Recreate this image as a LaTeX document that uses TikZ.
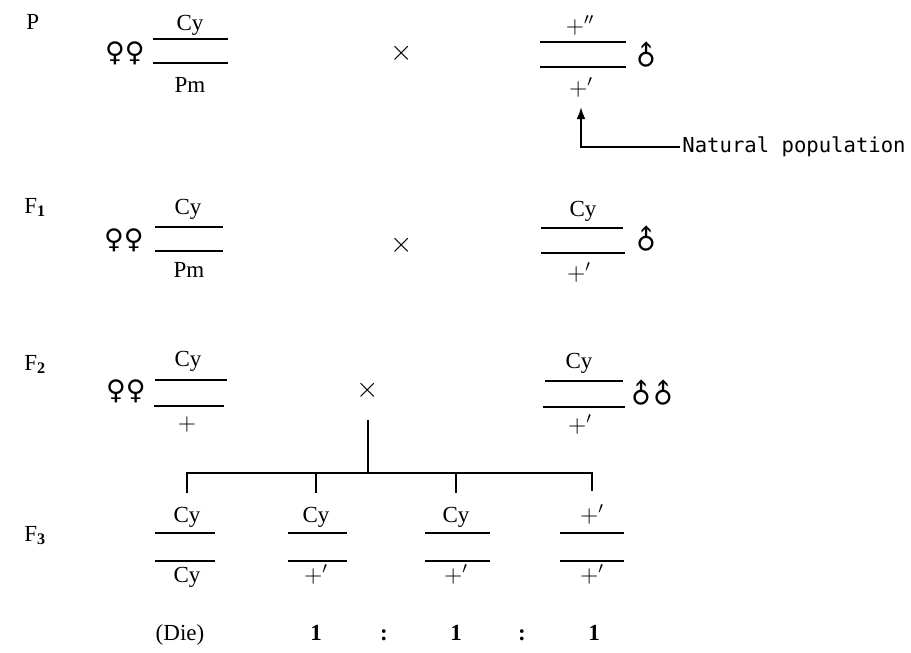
\documentclass[tikz,border=0pt]{standalone}
\usepackage{fontspec}
\usepackage{graphicx}
\setmainfont{Liberation Serif}
\newfontfamily\symfont{DejaVu Sans}
\newfontfamily\popfont{DejaVu Sans Mono}
\usetikzlibrary{arrows.meta, positioning}
\newcommand{\femalesym}{{\symfont ♀}}
\newcommand{\malesym}{\rotatebox[origin=c]{45}{\symfont ♂}}

\begin{document}
\begin{tikzpicture}[x=0.5pt, y=-0.5pt,
    chrom/.style={line width=0.75pt},
    allele/.style={font=\fontsize{11.5}{12}\selectfont, inner sep=1pt, anchor=base},
    gen/.style={font=\fontsize{11.5}{12}\selectfont, inner sep=0pt, anchor=base west},
    sex/.style={font=\fontsize{13.5}{14}\selectfont, inner sep=0pt},
    cross/.style={font=\fontsize{14}{14}\selectfont, inner sep=1pt},
    arr/.style={-{Latex[length=6pt, width=4.5pt]}, line width=0.8pt}
]
\useasboundingbox (0,0) rectangle (911,653);

% generation labels
\node[gen] (genP) at (26,30) {P};
\node[gen] (genF1) at (24,213) {F\textsubscript{\textbf{1}}};
\node[gen] (genF2) at (24,370) {F\textsubscript{\textbf{2}}};
\node[gen] (genF3) at (24,541) {F\textsubscript{\textbf{3}}};

% P: female x wild male
\node[sex] (fP) at (125,53) {\femalesym\femalesym};
\draw[chrom] (153,39) -- (228,39);
\draw[chrom] (153,63) -- (228,63);
\node[allele] (fPt) at (190,31) {Cy};
\node[allele] (fPb) at (190,92) {Pm};
\node[cross] (xP) at (402,53) {$\times$};
\draw[chrom] (540,42) -- (626,42);
\draw[chrom] (540,67) -- (626,67);
\node[allele] (mPt) at (580,33) {$+''$};
\node[allele] (mPb) at (581,95) {$+'$};
\node[sex] (mP) at (646,56) {\malesym};
\node[font=\popfont\fontsize{10.3}{12}\selectfont, anchor=west, inner sep=1pt] (natpop) at (680,147) {Natural population};
\draw[arr, shorten >=4pt] (natpop.west) -| (mPb.south);

% F1
\node[sex] (fF1) at (124,240) {\femalesym\femalesym};
\draw[chrom] (155,227) -- (223,227);
\draw[chrom] (155,251) -- (223,251);
\node[allele] (fF1t) at (188,214) {Cy};
\node[allele] (fF1b) at (189,277) {Pm};
\node[cross] (xF1) at (402,245) {$\times$};
\draw[chrom] (541,228) -- (623,228);
\draw[chrom] (541,253) -- (625,253);
\node[allele] (mF1t) at (583,216) {Cy};
\node[allele] (mF1b) at (579,280) {$+'$};
\node[sex] (mF1) at (646,240) {\malesym};

% F2
\node[sex] (fF2) at (126,391) {\femalesym\femalesym};
\draw[chrom] (155,380) -- (227,380);
\draw[chrom] (154,406) -- (224,406);
\node[allele] (fF2t) at (188,366) {Cy};
\node[allele] (fF2b) at (187,430) {$+$};
\node[cross] (xF2) at (368,390) {$\times$};
\draw[chrom] (545,381) -- (623,381);
\draw[chrom] (543,407) -- (625,407);
\node[allele] (mF2t) at (579,368) {Cy};
\node[allele] (mF2b) at (580,432) {$+'$};
\node[sex] (mF2) at (652,394) {\malesym\hspace{-4.5pt}\malesym};

% F3 offspring
\foreach \cx/\xl/\xr/\ta/\tb [count=\i] in {187/155/215/Cy/Cy, 316/288/347/Cy/$+'$, 456/425/490/Cy/$+'$, 592/560/624/$+'$/$+'$} {
  \draw[chrom] (\xl,533) -- (\xr,533);
  \draw[chrom] (\xl,561) -- (\xr,561);
  \node[allele] (g\i t) at (\cx,522) {\ta};
  \node[allele] (g\i b) at (\cx,582) {\tb};
}
\coordinate (bar) at (368,473);
\draw[chrom] ([yshift=-9pt]xF2.south) -- (bar);
\draw[chrom] ([yshift=5.5pt]g1t.north) |- (bar) -| ([yshift=5.5pt]g4t.north);
\foreach \i in {2,3}
  \draw[chrom] (bar -| g\i t) -- ([yshift=5.5pt]g\i t.north);

% ratio
\node[allele] (die) at (180,640) {(Die)};
\node[allele] (r1) at (316,640) {\textbf{1}};
\node[allele] (c1) at (384,640) {\textbf{:}};
\node[allele] (r2) at (456,640) {\textbf{1}};
\node[allele] (c2) at (522,640) {\textbf{:}};
\node[allele] (r3) at (594,640) {\textbf{1}};

\end{tikzpicture}
\end{document}
